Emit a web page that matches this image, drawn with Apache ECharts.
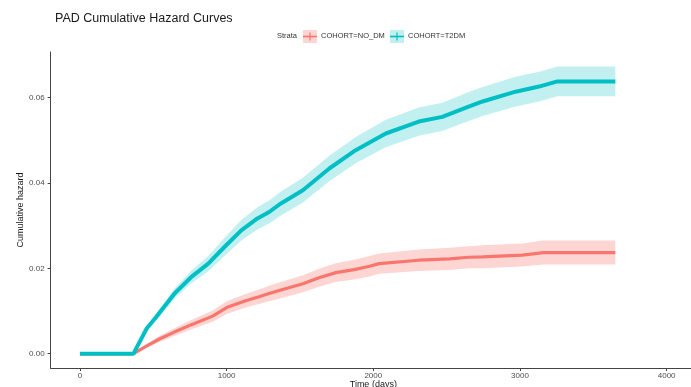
<!DOCTYPE html>
<html><head><meta charset="utf-8">
<script src="https://cdn.jsdelivr.net/npm/echarts@6/dist/echarts.min.js"></script>
<style>html,body{margin:0;padding:0;background:#fff}#c{width:691px;height:387px}</style>
</head><body><div id="c"></div>
<script>
const xTicks = [0, 1000, 2000, 3000, 4000];
const yTicks = [0, 0.02, 0.04, 0.06];
const strataTitle = 'Strata';
const strataNames = ['COHORT=NO_DM', 'COHORT=T2DM'];

const daysNO = [0, 365, 450, 545, 640, 760, 905, 1000, 1130, 1215, 1290, 1370, 1520, 1630, 1745, 1870, 1975, 2040, 2310, 2520, 2650, 2745, 3015, 3160, 3650];
const hazNO  = [0, 0, 0.0017, 0.0035, 0.0050, 0.0068, 0.0088, 0.0108, 0.0124, 0.0133, 0.0141, 0.0149, 0.0164, 0.0178, 0.0190, 0.0197, 0.0205, 0.0211, 0.0219, 0.0222, 0.0226, 0.0227, 0.0231, 0.0237, 0.0237];
const lowNO  = [0, 0, 0.0013, 0.0028, 0.0041, 0.0057, 0.0075, 0.0093, 0.0108, 0.0116, 0.0123, 0.0130, 0.0144, 0.0157, 0.0168, 0.0174, 0.0181, 0.0187, 0.0194, 0.0196, 0.0200, 0.0200, 0.0204, 0.0209, 0.0209];
const upNO   = [0, 0, 0.0021, 0.0042, 0.0059, 0.0079, 0.0101, 0.0123, 0.0140, 0.0150, 0.0159, 0.0168, 0.0184, 0.0199, 0.0212, 0.0220, 0.0229, 0.0235, 0.0244, 0.0248, 0.0252, 0.0254, 0.0258, 0.0265, 0.0265];

const daysT2 = [0, 365, 455, 520, 645, 760, 875, 985, 1100, 1210, 1290, 1370, 1520, 1700, 1880, 2085, 2310, 2470, 2650, 2745, 2970, 3130, 3255, 3650];
const hazT2  = [0, 0, 0.0059, 0.0086, 0.0141, 0.0180, 0.0211, 0.0250, 0.0289, 0.0317, 0.0332, 0.0352, 0.0383, 0.0434, 0.0477, 0.0516, 0.0544, 0.0555, 0.0579, 0.0591, 0.0614, 0.0626, 0.0638, 0.0638];
const lowT2  = [0, 0, 0.0053, 0.0078, 0.0129, 0.0165, 0.0193, 0.0229, 0.0265, 0.0291, 0.0305, 0.0324, 0.0354, 0.0404, 0.0446, 0.0484, 0.0511, 0.0522, 0.0545, 0.0557, 0.0579, 0.0591, 0.0603, 0.0603];
const upT2   = [0, 0, 0.0065, 0.0094, 0.0153, 0.0195, 0.0229, 0.0271, 0.0313, 0.0343, 0.0359, 0.0380, 0.0412, 0.0464, 0.0508, 0.0548, 0.0577, 0.0588, 0.0613, 0.0625, 0.0649, 0.0661, 0.0673, 0.0673];

const colNO = '#F8766D', colT2 = '#00BFC4';
const bandNO = 'rgba(248,118,109,0.3)', bandT2 = 'rgba(0,191,196,0.24)';
const FONT = 'Liberation Sans, Arial, sans-serif';

function zip(a, b) { return a.map((d, i) => [d, b[i]]); }
function bandSeries(days, low, up, fill) {
  return {
    type: 'custom', silent: true, z: 1,
    data: [[days[0], low[0]]],
    renderItem: function (params, api) {
      const pts = [];
      for (let i = 0; i < days.length; i++) pts.push(api.coord([days[i], up[i]]));
      for (let i = days.length - 1; i >= 0; i--) pts.push(api.coord([days[i], low[i]]));
      return { type: 'polygon', shape: { points: pts }, style: { fill: fill } };
    }
  };
}

const chart = echarts.init(document.getElementById('c'), null, { renderer: 'canvas' });
chart.setOption({
  animation: false,
  backgroundColor: '#fff',
  title: { text: 'PAD Cumulative Hazard Curves', left: 50, top: 7,
    textStyle: { fontFamily: FONT, fontSize: 12.5, fontWeight: 'normal', color: '#1a1a1a' } },
  grid: { left: 50.6, right: -5, top: 52, bottom: 19, outerBoundsMode: 'none', containLabel: false },
  xAxis: {
    type: 'value', min: -200, max: 4200,
    name: 'Time (days)', nameLocation: 'middle', nameGap: 12, nameMoveOverlap: false,
    nameTextStyle: { fontFamily: FONT, fontSize: 9, color: '#1a1a1a' },
    splitLine: { show: false },
    axisLine: { show: true, onZero: false, lineStyle: { color: '#444', width: 1 } },
    axisTick: { show: true, length: 3, customValues: xTicks, lineStyle: { color: '#444' } },
    axisLabel: { customValues: xTicks, margin: 4, fontFamily: FONT, fontSize: 8, color: '#4d4d4d',
      formatter: v => String(v) }
  },
  yAxis: {
    type: 'value', min: -0.00336, max: 0.0707,
    name: 'Cumulative hazard', nameLocation: 'middle', nameGap: 26, nameRotate: 90, nameMoveOverlap: false,
    nameTextStyle: { fontFamily: FONT, fontSize: 9, color: '#1a1a1a' },
    splitLine: { show: false },
    axisLine: { show: true, onZero: false, lineStyle: { color: '#444', width: 1 } },
    axisTick: { show: true, length: 3, customValues: yTicks, lineStyle: { color: '#444' } },
    axisLabel: { customValues: yTicks, margin: 6, fontFamily: FONT, fontSize: 8, color: '#4d4d4d',
      formatter: v => v.toFixed(2) }
  },
  graphic: [
    { type: 'text', left: 277, top: 32, style: { text: strataTitle, fontFamily: FONT, fontSize: 7.5, fill: '#333' } },
    { type: 'rect', shape: { x: 303, y: 30, width: 14, height: 13 }, style: { fill: bandNO } },
    { type: 'line', shape: { x1: 303, y1: 36.5, x2: 317, y2: 36.5 }, style: { stroke: colNO, lineWidth: 1.6 } },
    { type: 'line', shape: { x1: 310, y1: 32.5, x2: 310, y2: 40.5 }, style: { stroke: colNO, lineWidth: 1.2 } },
    { type: 'text', left: 321, top: 32, style: { text: strataNames[0], fontFamily: FONT, fontSize: 7.5, fill: '#333' } },
    { type: 'rect', shape: { x: 390, y: 30, width: 14, height: 13 }, style: { fill: bandT2 } },
    { type: 'line', shape: { x1: 390, y1: 36.5, x2: 404, y2: 36.5 }, style: { stroke: colT2, lineWidth: 1.6 } },
    { type: 'line', shape: { x1: 397, y1: 32.5, x2: 397, y2: 40.5 }, style: { stroke: colT2, lineWidth: 1.2 } },
    { type: 'text', left: 408, top: 32, style: { text: strataNames[1], fontFamily: FONT, fontSize: 7.5, fill: '#333' } }
  ],
  series: [
    bandSeries(daysNO, lowNO, upNO, bandNO),
    bandSeries(daysT2, lowT2, upT2, bandT2),
    { name: strataNames[0], type: 'line', data: zip(daysNO, hazNO), showSymbol: false, symbol: 'none', z: 3,
      lineStyle: { color: colNO, width: 3.2 }, itemStyle: { color: colNO } },
    { name: strataNames[1], type: 'line', data: zip(daysT2, hazT2), showSymbol: false, symbol: 'none', z: 4,
      lineStyle: { color: colT2, width: 4 }, itemStyle: { color: colT2 } }
  ]
});
</script>
</body></html>
